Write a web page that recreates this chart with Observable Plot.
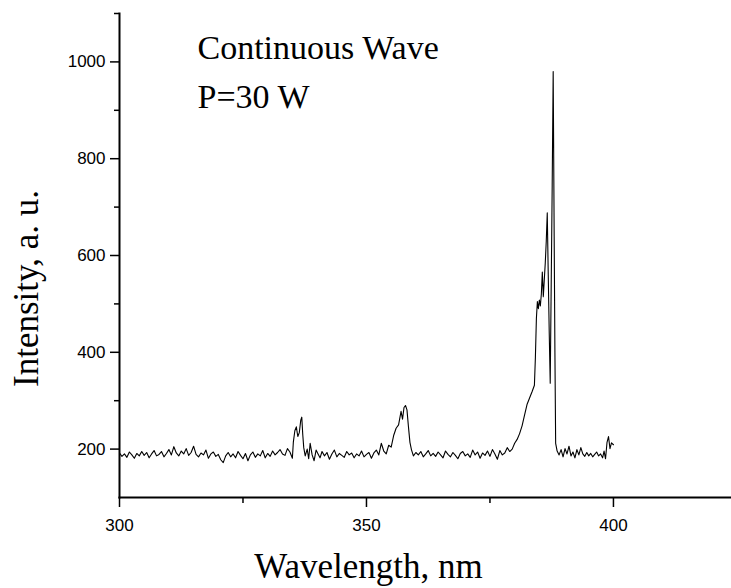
<!DOCTYPE html>
<html>
<head>
<meta charset="utf-8">
<script src="https://cdn.jsdelivr.net/npm/d3@7"></script>
<script src="https://cdn.jsdelivr.net/npm/@observablehq/plot@0.6"></script>
<style>
  html, body { margin: 0; padding: 0; background: #fff; }
  svg { display: block; }
</style>
</head>
<body>
<div id="chart"></div>
<script>
// Spectrum sample wavelengths (nm) and intensities (a. u.)
const wavelength = [
  300.0,300.5,301.0,301.5,302.0,302.5,303.0,303.5,304.0,304.5,
  305.0,305.5,306.0,306.5,307.0,307.5,308.0,308.5,309.0,309.5,
  310.0,310.5,311.0,311.5,312.0,312.5,313.0,313.5,314.0,314.5,
  315.0,315.5,316.0,316.5,317.0,317.5,318.0,318.5,319.0,319.5,
  320.0,320.5,321.0,321.5,322.0,322.5,323.0,323.5,324.0,324.5,
  325.0,325.5,326.0,326.5,327.0,327.5,328.0,328.5,329.0,329.5,
  330.0,330.5,331.0,331.5,332.0,332.5,333.0,333.5,334.0,334.5,
  335.0,335.2,335.5,335.8,336.1,336.4,336.7,336.9,337.1,337.3,
  337.6,338.0,338.3,338.6,339.0,339.4,339.8,340.2,340.6,341.0,
  341.5,342.0,342.5,343.0,343.5,344.0,344.5,345.0,345.5,346.0,
  346.5,347.0,347.5,348.0,348.5,349.0,349.5,350.0,350.5,351.0,
  351.5,352.0,352.5,353.0,353.5,354.0,354.5,355.0,355.5,356.0,
  356.5,357.0,357.3,357.6,357.9,358.2,358.5,358.8,359.1,359.5,
  360.0,360.5,361.0,361.5,362.0,362.5,363.0,363.5,364.0,364.5,
  365.0,365.5,366.0,366.5,367.0,367.5,368.0,368.5,369.0,369.5,
  370.0,370.5,371.0,371.5,372.0,372.5,373.0,373.5,374.0,374.5,
  375.0,375.5,376.0,376.5,377.0,377.5,378.0,378.5,379.0,379.5,
  380.0,380.5,381.0,381.5,382.0,382.5,383.0,383.5,384.0,384.2,
  384.4,384.6,384.8,385.0,385.2,385.4,385.6,385.8,386.0,386.2,
  386.4,386.6,386.8,387.0,387.2,387.4,387.6,387.8,388.0,388.15,
  388.3,388.6,389.0,389.4,389.8,390.2,390.6,391.0,391.4,391.8,
  392.2,392.6,393.0,393.4,393.8,394.2,394.6,395.0,395.4,395.8,
  396.2,396.6,397.0,397.4,397.8,398.1,398.4,398.7,399.0,399.3,
  399.6,400.0
];
const intensity = [
  192,185,190,183,194,188,181,191,186,195,
  187,193,182,190,197,186,189,195,184,191,
  199,188,205,192,186,196,190,201,187,193,
  206,189,184,192,188,198,181,190,194,185,
  189,178,172,186,193,184,190,182,195,187,
  180,191,176,188,194,183,190,186,197,182,
  191,185,196,188,193,199,190,187,201,194,
  181,215,238,246,226,234,260,266,230,203,
  186,200,180,212,188,176,198,190,182,195,
  186,193,179,190,198,184,191,187,183,195,
  188,192,182,190,186,196,184,189,193,181,
  192,198,188,212,196,190,208,204,228,243,
  250,278,262,286,290,281,246,214,199,186,
  193,188,195,184,190,197,186,191,185,194,
  188,182,196,189,184,193,187,180,191,195,
  186,190,183,198,188,194,181,192,187,196,
  185,199,190,179,197,188,192,203,195,200,
  212,220,232,248,270,292,305,318,332,390,
  470,505,490,508,496,520,566,515,550,585,
  630,688,560,440,336,540,745,980,640,400,
  212,196,188,199,184,201,190,206,186,194,
  182,199,188,203,190,185,193,186,191,184,
  189,194,186,190,182,196,180,214,226,201,
  213,209
];

// Axis ticks
const xMajorTicks = [300, 350, 400];
const xMinorTicks = [325, 375];
const yMajorTicks = [200, 400, 600, 800, 1000];
const yMinorTicks = [300, 500, 700, 900, 1100];

// Texts
const annotation = "Continuous Wave\nP=30 W";
const xLabel = "Wavelength, nm";
const yLabel = "Intensity, a. u.";

const data = wavelength.map((w, i) => ({wavelength: w, intensity: intensity[i]}));

const serif = "'Liberation Serif', 'Times New Roman', serif";
const plain = d3.format("d");

const chart = Plot.plot({
  width: 731,
  height: 588,
  marginLeft: 119,
  marginRight: 0,
  marginTop: 13,
  marginBottom: 91,
  x: {domain: [300, 423.9]},
  y: {domain: [100, 1100]},
  style: {
    fontFamily: "'Liberation Sans', Arial, sans-serif",
    fontSize: "17px",
    color: "black",
    background: "white",
    overflow: "visible"
  },
  marks: [
    Plot.axisY(yMajorTicks, {tickSize: 9, tickPadding: 5, label: null, strokeWidth: 1.5, fontSize: 17, tickFormat: plain}),
    Plot.axisY(yMinorTicks, {tickSize: 5, text: null, label: null, strokeWidth: 1.5}),
    Plot.axisX(xMajorTicks, {tickSize: 10, tickPadding: 11, label: null, strokeWidth: 1.5, fontSize: 17, tickFormat: plain}),
    Plot.axisX(xMinorTicks, {tickSize: 6, text: null, label: null, strokeWidth: 1.5}),
    Plot.line(data, {x: "wavelength", y: "intensity", stroke: "black", strokeWidth: 1.1}),
    Plot.frame({anchor: "left", strokeWidth: 2}),
    Plot.frame({anchor: "bottom", strokeWidth: 2}),
    Plot.text([annotation], {
      text: d => d, frameAnchor: "top-left", textAnchor: "start", lineAnchor: "bottom",
      lineHeight: 1.42, dx: 78, dy: 94, fontSize: 34, fontFamily: serif, fill: "black"
    }),
    Plot.text([xLabel], {
      text: d => d, frameAnchor: "bottom", textAnchor: "middle", lineAnchor: "bottom",
      dx: -57, dy: 80, fontSize: 35, fontFamily: serif, fill: "black"
    }),
    Plot.text([yLabel], {
      text: d => d, frameAnchor: "left", textAnchor: "middle", lineAnchor: "bottom",
      rotate: -90, dx: -82, dy: 33, fontSize: 35, fontFamily: serif, fill: "black"
    })
  ]
});

document.getElementById("chart").appendChild(chart);
</script>
</body>
</html>
